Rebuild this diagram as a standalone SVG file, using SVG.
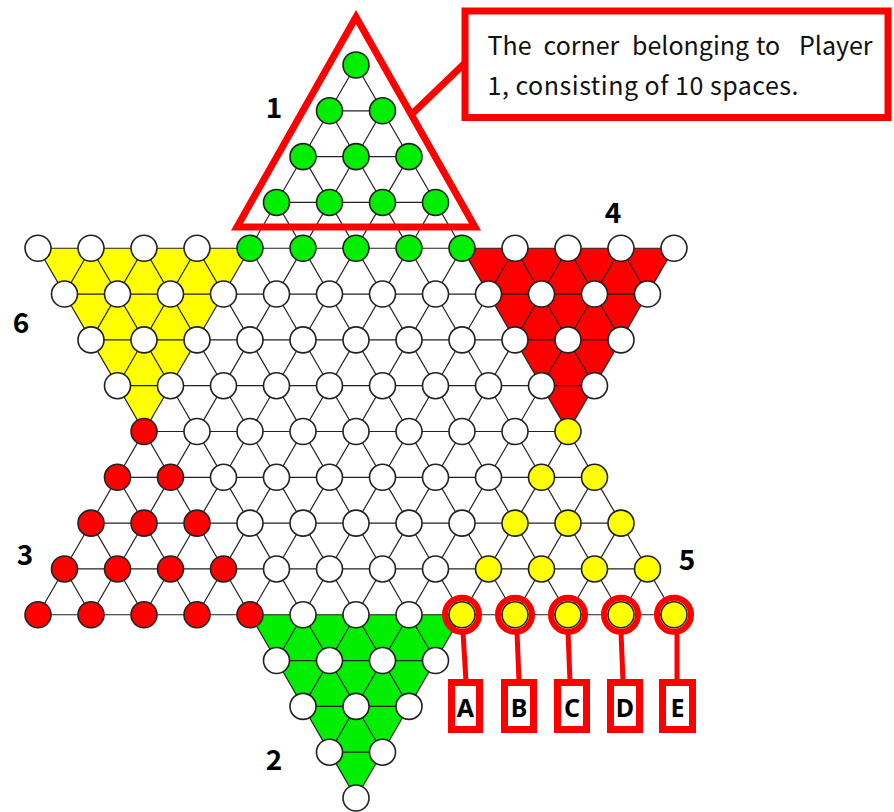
<svg xmlns="http://www.w3.org/2000/svg" width="894" height="812" viewBox="0 0 894 812">
<style>
.ln{stroke:#222;stroke-width:1.2;fill:none}
.c{stroke:#222;stroke-width:1.6}
.w{fill:#fff}.g{fill:#00ee00}.r{fill:#ff0000}.y{fill:#ffff00}
.num{font-family:"Noto Sans CJK SC","Noto Sans",sans-serif;font-size:28px;font-weight:bold;fill:#000;text-anchor:middle}
.ann{stroke:#ff0000;fill:none}
.lt{font-family:"Noto Sans","Liberation Sans",sans-serif;font-weight:bold;font-size:25px;fill:#000;text-anchor:middle}
.cap{font-family:"Noto Sans CJK SC","Noto Sans",sans-serif;font-size:25px;fill:#111}
</style>
<rect width="894" height="812" fill="#fff"/>
<g id="fills">
<polygon points="38,248.25 250,248.25 144,431.5" fill="#ffff00"/>
<polygon points="462,248.25 674,248.25 568,431.5" fill="#ff0000"/>
<polygon points="250,614.75 462,614.75 356,798" fill="#00ee00"/>
</g>
<g id="connectors" class="ln">
<path d="M329.5,110.81H382.5M303,156.63H409M276.5,202.44H435.5M38,248.25H674M64.5,294.06H647.5M91,339.88H621M117.5,385.69H594.5M144,431.5H568M117.5,477.31H594.5M91,523.13H621M64.5,568.94H647.5M38,614.75H674M276.5,660.56H435.5M303,706.38H409M329.5,752.19H382.5"/>
<path d="M64.5,568.94L91,614.75M91,523.13L144,614.75M117.5,477.31L197,614.75M38,248.25L356,798M91,248.25L382.5,752.19M144,248.25L409,706.38M197,248.25L435.5,660.56M250,248.25L462,614.75M276.5,202.44L515,614.75M303,156.63L568,614.75M329.5,110.81L621,614.75M356,65L674,614.75M515,248.25L594.5,385.69M568,248.25L621,339.88M621,248.25L647.5,294.06"/>
<path d="M647.5,568.94L621,614.75M621,523.13L568,614.75M594.5,477.31L515,614.75M674,248.25L356,798M621,248.25L329.5,752.19M568,248.25L303,706.38M515,248.25L276.5,660.56M462,248.25L250,614.75M435.5,202.44L197,614.75M409,156.63L144,614.75M382.5,110.81L91,614.75M356,65L38,614.75M197,248.25L117.5,385.69M144,248.25L91,339.88M91,248.25L64.5,294.06"/>
</g>
<g id="corner-1" class="c g">
<circle cx="356" cy="65" r="13"/>
<circle cx="329.5" cy="110.81" r="13"/><circle cx="382.5" cy="110.81" r="13"/>
<circle cx="303" cy="156.63" r="13"/><circle cx="356" cy="156.63" r="13"/><circle cx="409" cy="156.63" r="13"/>
<circle cx="276.5" cy="202.44" r="13"/><circle cx="329.5" cy="202.44" r="13"/><circle cx="382.5" cy="202.44" r="13"/><circle cx="435.5" cy="202.44" r="13"/>
</g>
<g id="row-4-green" class="c g">
<circle cx="250" cy="248.25" r="13"/><circle cx="303" cy="248.25" r="13"/><circle cx="356" cy="248.25" r="13"/><circle cx="409" cy="248.25" r="13"/><circle cx="462" cy="248.25" r="13"/>
</g>
<g id="corner-6" class="c w">
<circle cx="38" cy="248.25" r="13"/><circle cx="91" cy="248.25" r="13"/><circle cx="144" cy="248.25" r="13"/><circle cx="197" cy="248.25" r="13"/>
<circle cx="64.5" cy="294.06" r="13"/><circle cx="117.5" cy="294.06" r="13"/><circle cx="170.5" cy="294.06" r="13"/>
<circle cx="91" cy="339.88" r="13"/><circle cx="144" cy="339.88" r="13"/>
<circle cx="117.5" cy="385.69" r="13"/>
</g>
<g id="corner-4" class="c w">
<circle cx="515" cy="248.25" r="13"/><circle cx="568" cy="248.25" r="13"/><circle cx="621" cy="248.25" r="13"/><circle cx="674" cy="248.25" r="13"/>
<circle cx="541.5" cy="294.06" r="13"/><circle cx="594.5" cy="294.06" r="13"/><circle cx="647.5" cy="294.06" r="13"/>
<circle cx="568" cy="339.88" r="13"/><circle cx="621" cy="339.88" r="13"/>
<circle cx="594.5" cy="385.69" r="13"/>
</g>
<g id="center" class="c w">
<circle cx="223.5" cy="294.06" r="13"/><circle cx="276.5" cy="294.06" r="13"/><circle cx="329.5" cy="294.06" r="13"/><circle cx="382.5" cy="294.06" r="13"/><circle cx="435.5" cy="294.06" r="13"/><circle cx="488.5" cy="294.06" r="13"/>
<circle cx="197" cy="339.88" r="13"/><circle cx="250" cy="339.88" r="13"/><circle cx="303" cy="339.88" r="13"/><circle cx="356" cy="339.88" r="13"/><circle cx="409" cy="339.88" r="13"/><circle cx="462" cy="339.88" r="13"/><circle cx="515" cy="339.88" r="13"/>
<circle cx="170.5" cy="385.69" r="13"/><circle cx="223.5" cy="385.69" r="13"/><circle cx="276.5" cy="385.69" r="13"/><circle cx="329.5" cy="385.69" r="13"/><circle cx="382.5" cy="385.69" r="13"/><circle cx="435.5" cy="385.69" r="13"/><circle cx="488.5" cy="385.69" r="13"/><circle cx="541.5" cy="385.69" r="13"/>
<circle cx="197" cy="431.5" r="13"/><circle cx="250" cy="431.5" r="13"/><circle cx="303" cy="431.5" r="13"/><circle cx="356" cy="431.5" r="13"/><circle cx="409" cy="431.5" r="13"/><circle cx="462" cy="431.5" r="13"/><circle cx="515" cy="431.5" r="13"/>
<circle cx="223.5" cy="477.31" r="13"/><circle cx="276.5" cy="477.31" r="13"/><circle cx="329.5" cy="477.31" r="13"/><circle cx="382.5" cy="477.31" r="13"/><circle cx="435.5" cy="477.31" r="13"/><circle cx="488.5" cy="477.31" r="13"/>
<circle cx="250" cy="523.13" r="13"/><circle cx="303" cy="523.13" r="13"/><circle cx="356" cy="523.13" r="13"/><circle cx="409" cy="523.13" r="13"/><circle cx="462" cy="523.13" r="13"/>
<circle cx="276.5" cy="568.94" r="13"/><circle cx="329.5" cy="568.94" r="13"/><circle cx="382.5" cy="568.94" r="13"/><circle cx="435.5" cy="568.94" r="13"/>
<circle cx="303" cy="614.75" r="13"/><circle cx="356" cy="614.75" r="13"/><circle cx="409" cy="614.75" r="13"/>
</g>
<g id="corner-3" class="c r">
<circle cx="144" cy="431.5" r="13"/>
<circle cx="117.5" cy="477.31" r="13"/><circle cx="170.5" cy="477.31" r="13"/>
<circle cx="91" cy="523.13" r="13"/><circle cx="144" cy="523.13" r="13"/><circle cx="197" cy="523.13" r="13"/>
<circle cx="64.5" cy="568.94" r="13"/><circle cx="117.5" cy="568.94" r="13"/><circle cx="170.5" cy="568.94" r="13"/><circle cx="223.5" cy="568.94" r="13"/>
<circle cx="38" cy="614.75" r="13"/><circle cx="91" cy="614.75" r="13"/><circle cx="144" cy="614.75" r="13"/><circle cx="197" cy="614.75" r="13"/><circle cx="250" cy="614.75" r="13"/>
</g>
<g id="corner-5" class="c y">
<circle cx="568" cy="431.5" r="13"/>
<circle cx="541.5" cy="477.31" r="13"/><circle cx="594.5" cy="477.31" r="13"/>
<circle cx="515" cy="523.13" r="13"/><circle cx="568" cy="523.13" r="13"/><circle cx="621" cy="523.13" r="13"/>
<circle cx="488.5" cy="568.94" r="13"/><circle cx="541.5" cy="568.94" r="13"/><circle cx="594.5" cy="568.94" r="13"/><circle cx="647.5" cy="568.94" r="13"/>
<circle cx="462" cy="614.75" r="13"/><circle cx="515" cy="614.75" r="13"/><circle cx="568" cy="614.75" r="13"/><circle cx="621" cy="614.75" r="13"/><circle cx="674" cy="614.75" r="13"/>
</g>
<g id="corner-2" class="c w">
<circle cx="276.5" cy="660.56" r="13"/><circle cx="329.5" cy="660.56" r="13"/><circle cx="382.5" cy="660.56" r="13"/><circle cx="435.5" cy="660.56" r="13"/>
<circle cx="303" cy="706.38" r="13"/><circle cx="356" cy="706.38" r="13"/><circle cx="409" cy="706.38" r="13"/>
<circle cx="329.5" cy="752.19" r="13"/><circle cx="382.5" cy="752.19" r="13"/>
<circle cx="356" cy="798" r="13"/>
</g>
<g id="labels">
<text class="num" x="274" y="118">1</text>
<text class="num" x="274" y="770">2</text>
<text class="num" x="25" y="565">3</text>
<text class="num" x="613" y="223">4</text>
<text class="num" x="687" y="570">5</text>
<text class="num" x="21" y="333">6</text>
</g>
<g id="callout">
<polygon class="ann" points="356,17 237,227 475,227" stroke-width="7"/>
<line class="ann" x1="412" y1="114" x2="466" y2="62" stroke-width="7"/>
<rect class="ann" x="465" y="11" width="423" height="106.5" stroke-width="7" fill="#fff"/>
<text class="cap" y="55"><tspan x="487.5">The</tspan><tspan x="543.5">corner</tspan><tspan x="632">belonging</tspan><tspan x="756">to</tspan><tspan x="799">Player</tspan></text>
<text class="cap" x="487.5" y="95" textLength="311" lengthAdjust="spacing">1, consisting of 10 spaces.</text>
</g>
<g id="markers">
<g class="ann" stroke-width="6">
<circle cx="462" cy="614.75" r="17"/><circle cx="515" cy="614.75" r="17"/><circle cx="568" cy="614.75" r="17"/><circle cx="621" cy="614.75" r="17"/><circle cx="674" cy="614.75" r="17"/>
</g>
<g class="ann" stroke-width="5">
<line x1="463" y1="632" x2="466" y2="682"/><line x1="517" y1="632" x2="519" y2="682"/><line x1="568" y1="632" x2="570" y2="682"/><line x1="621" y1="632" x2="623" y2="682"/><line x1="677" y1="632" x2="677" y2="682"/>
</g>
<g id="box-A"><rect class="ann" x="451.5" y="682.5" width="28" height="47" stroke-width="7" fill="#fff"/><text class="lt" x="465.5" y="717">A</text></g>
<g id="box-B"><rect class="ann" x="504.5" y="682.5" width="29" height="47" stroke-width="7" fill="#fff"/><text class="lt" x="519" y="717">B</text></g>
<g id="box-C"><rect class="ann" x="557.5" y="682.5" width="29" height="47" stroke-width="7" fill="#fff"/><text class="lt" x="572" y="717">C</text></g>
<g id="box-D"><rect class="ann" x="610.5" y="682.5" width="29" height="47" stroke-width="7" fill="#fff"/><text class="lt" x="625" y="717">D</text></g>
<g id="box-E"><rect class="ann" x="662.5" y="682.5" width="30" height="47" stroke-width="7" fill="#fff"/><text class="lt" x="677.5" y="717">E</text></g>
</g>
</svg>
